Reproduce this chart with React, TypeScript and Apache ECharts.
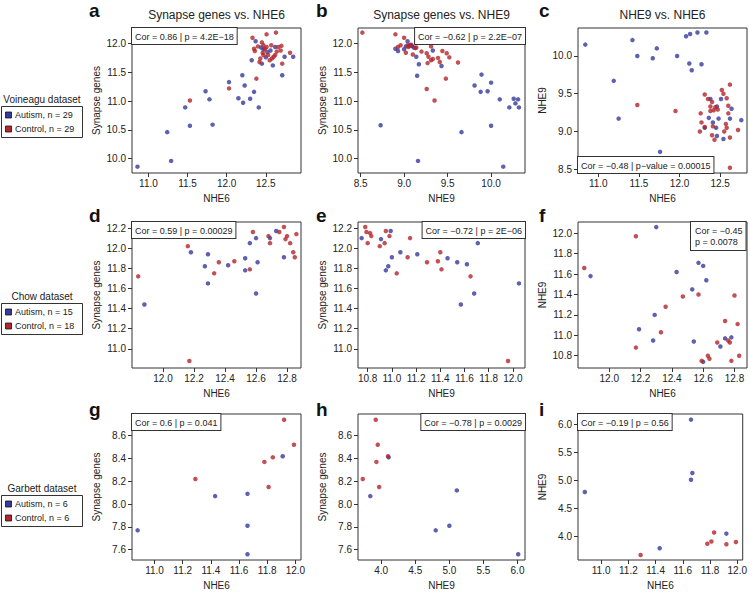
import React, { useEffect, useRef } from "react";
import * as echarts from "echarts";

const FONT = "'Liberation Sans', Arial, Helvetica, sans-serif";
const BLUE = "#363a9c";
const RED = "#b3262c";
const INK = "#222222";
const FRAME = "#333333";

// ---------- tick labels ----------
const TICKS_NHE6_V = [11.0, 11.5, 12.0, 12.5];
const TICKS_SYN_V = [10.0, 10.5, 11.0, 11.5, 12.0];
const TICKS_NHE9_V = [8.5, 9.0, 9.5, 10.0];
const TICKS_NHE6_C = [12.0, 12.2, 12.4, 12.6, 12.8];
const TICKS_SYN_C = [11.0, 11.2, 11.4, 11.6, 11.8, 12.0, 12.2];
const TICKS_NHE9_C = [10.8, 11.0, 11.2, 11.4, 11.6, 11.8, 12.0];
const TICKS_NHE6_G = [11.0, 11.2, 11.4, 11.6, 11.8, 12.0];
const TICKS_SYN_G = [7.6, 7.8, 8.0, 8.2, 8.4, 8.6];
const TICKS_NHE9_G = [4.0, 4.5, 5.0, 5.5, 6.0];

// ---------- texts ----------
const TITLES = ["Synapse genes vs. NHE6", "Synapse genes vs. NHE9", "NHE9 vs. NHE6"];
const LETTERS = ["a", "b", "c", "d", "e", "f", "g", "h", "i"];
const DATASETS = ["Voineagu dataset", "Chow dataset", "Garbett dataset"];
const AUTISM_N = [29, 15, 6];
const CONTROL_N = [29, 18, 6];
const COR_TEXTS = [
  "Cor = 0.86 | p = 4.2E\u221218",
  "Cor = \u22120.62 | p = 2.2E\u221207",
  "Cor = \u22120.48 | p\u2212value = 0.00015",
  "Cor = 0.59 | p = 0.00029",
  "Cor = \u22120.72 | p = 2E\u221206",
  "Cor = \u22120.45\np = 0.0078",
  "Cor = 0.6 | p = 0.041",
  "Cor = \u22120.78 | p = 0.0029",
  "Cor = \u22120.19 | p = 0.56",
];

// ---------- data: [x, y] ----------
// Voineagu
const A_AUTISM = [
  [10.86, 9.86], [11.24, 10.46], [11.29, 9.96], [11.47, 10.89], [11.53, 10.57], [11.73, 11.17],
  [11.78, 11.03], [11.82, 10.59], [12.03, 11.33], [12.15, 11.05], [12.2, 11.45], [12.21, 10.97],
  [12.23, 11.27], [12.3, 11.04], [12.35, 11.16], [12.41, 10.89], [12.71, 11.45], [12.37, 12.04],
  [12.32, 11.71], [12.45, 11.65], [12.47, 11.9], [12.56, 11.88], [12.59, 11.62], [12.62, 11.94],
  [12.74, 11.77], [12.85, 11.77], [12.5, 11.76], [12.44, 11.93], [12.52, 11.85],
];
const A_CONTROL = [
  [11.53, 11.01], [12.03, 11.22], [12.38, 11.39], [12.33, 12.1], [12.35, 11.91], [12.36, 11.87],
  [12.51, 12.16], [12.63, 12.19], [12.47, 11.97], [12.51, 11.94], [12.46, 11.84], [12.47, 11.8],
  [12.43, 11.74], [12.53, 11.8], [12.55, 11.71], [12.58, 11.74], [12.62, 11.8], [12.66, 11.94],
  [12.69, 11.88], [12.7, 11.96], [12.71, 11.65], [12.81, 11.84], [12.42, 11.68], [12.4, 11.95],
  [12.57, 11.97], [12.49, 11.9], [12.64, 11.86], [12.45, 12.02], [12.6, 11.77],
];
const B_AUTISM = [
  [8.9, 11.91], [8.93, 11.87], [9.04, 12.04], [9.09, 11.96], [9.14, 11.77], [9.17, 11.64],
  [9.15, 11.44], [9.33, 11.88], [9.43, 11.61], [8.73, 10.58], [9.16, 9.96], [9.66, 10.46],
  [9.81, 11.27], [9.89, 11.46], [9.88, 11.16], [9.96, 11.17], [10.0, 11.32], [10.0, 10.57],
  [10.1, 11.03], [10.14, 9.86], [10.21, 10.89], [10.26, 11.04], [10.28, 10.96], [10.31, 11.03],
  [10.32, 10.89], [9.02, 11.95], [9.07, 11.97], [9.0, 11.9], [9.11, 11.93],
];
const B_CONTROL = [
  [8.52, 12.19], [8.9, 12.16], [9.0, 12.1], [8.93, 11.94], [8.96, 11.97], [9.02, 11.84],
  [9.04, 11.97], [9.05, 11.94], [9.08, 11.98], [9.1, 11.81], [9.13, 11.92], [9.2, 11.86],
  [9.26, 11.83], [9.28, 11.77], [9.27, 11.66], [9.31, 11.71], [9.31, 11.95], [9.39, 11.75],
  [9.41, 11.68], [9.44, 11.87], [9.49, 11.83], [9.52, 11.76], [9.62, 11.67], [9.48, 11.39],
  [9.26, 11.21], [9.35, 11.01], [9.06, 11.96], [9.14, 11.93], [9.33, 11.73],
];
const C_AUTISM = [
  [10.84, 10.15], [11.19, 9.67], [11.25, 9.17], [11.42, 10.21], [11.48, 10.0], [11.67, 9.97],
  [11.72, 10.1], [11.76, 8.73], [11.97, 10.0], [12.08, 10.26], [12.13, 10.29], [12.12, 9.9],
  [12.15, 9.81], [12.22, 10.31], [12.27, 9.89], [12.33, 10.31], [12.38, 9.43], [12.36, 9.18],
  [12.31, 9.05], [12.45, 9.05], [12.46, 9.33], [12.48, 9.17], [12.46, 8.94], [12.51, 9.43],
  [12.54, 8.9], [12.64, 9.3], [12.62, 9.17], [12.76, 9.15], [12.41, 9.12],
];
const C_CONTROL = [
  [11.48, 9.35], [11.95, 9.27], [12.62, 8.52], [12.31, 9.49], [12.35, 9.43], [12.26, 9.24],
  [12.27, 9.12], [12.25, 9.0], [12.31, 9.06], [12.4, 9.39], [12.38, 9.33], [12.42, 9.28],
  [12.44, 9.32], [12.47, 9.29], [12.38, 9.27], [12.41, 9.07], [12.4, 8.95], [12.43, 8.89],
  [12.52, 9.55], [12.54, 9.5], [12.58, 9.44], [12.62, 9.62], [12.6, 9.34], [12.58, 9.05],
  [12.55, 9.0], [12.6, 9.24], [12.62, 8.92], [12.72, 9.02], [12.57, 9.1],
];
// Chow
const D_AUTISM = [
  [11.88, 11.44], [12.18, 11.96], [12.27, 11.82], [12.29, 11.94], [12.29, 11.65], [12.42, 11.83],
  [12.53, 11.9], [12.53, 11.78], [12.56, 12.05], [12.6, 12.1], [12.6, 11.55], [12.61, 11.86],
  [12.69, 12.1], [12.73, 12.17], [12.78, 11.91],
];
const D_CONTROL = [
  [11.84, 11.72], [12.16, 12.02], [12.17, 10.88], [12.33, 11.75], [12.36, 11.86], [12.46, 11.87],
  [12.56, 11.79], [12.58, 12.16], [12.68, 12.12], [12.69, 12.05], [12.75, 12.16], [12.78, 12.21],
  [12.79, 12.09], [12.8, 12.12], [12.82, 12.05], [12.84, 11.96], [12.85, 11.91], [12.86, 12.14],
];
const E_AUTISM = [
  [10.75, 12.1], [10.91, 12.09], [10.95, 11.78], [10.97, 11.82], [10.99, 12.17], [11.0, 11.91],
  [11.07, 11.96], [11.21, 11.94], [11.46, 11.9], [11.54, 11.86], [11.57, 11.44], [11.62, 11.84],
  [11.68, 11.55], [11.71, 12.05], [12.05, 11.65],
];
const E_CONTROL = [
  [10.78, 12.21], [10.79, 12.16], [10.8, 12.05], [10.82, 12.15], [10.83, 12.12], [10.9, 12.02],
  [10.94, 12.05], [10.95, 12.17], [10.98, 12.12], [11.04, 11.75], [11.13, 11.91], [11.15, 12.1],
  [11.29, 11.86], [11.38, 11.87], [11.4, 11.96], [11.41, 11.79], [11.65, 11.72], [11.96, 10.88],
];
const F_AUTISM = [
  [11.88, 11.58], [12.19, 11.06], [12.3, 12.06], [12.29, 11.2], [12.28, 10.95], [12.43, 11.62],
  [12.53, 11.45], [12.54, 10.94], [12.57, 11.71], [12.6, 11.68], [12.62, 11.54], [12.6, 10.74],
  [12.71, 10.89], [12.74, 10.97], [12.78, 10.98],
];
const F_CONTROL = [
  [11.84, 11.66], [12.17, 11.97], [12.17, 10.88], [12.33, 11.03], [12.36, 11.28], [12.47, 11.38],
  [12.57, 11.4], [12.59, 10.75], [12.63, 10.8], [12.64, 10.77], [12.69, 10.93], [12.74, 11.14],
  [12.76, 10.95], [12.77, 10.93], [12.78, 10.75], [12.8, 11.39], [12.82, 11.11], [12.83, 10.8],
];
// Garbett
const G_AUTISM = [[10.88, 7.77], [11.43, 8.07], [11.66, 8.09], [11.66, 7.81], [11.66, 7.56], [11.91, 8.42]];
const G_CONTROL = [[11.29, 8.22], [11.78, 8.37], [11.84, 8.41], [11.81, 8.15], [11.92, 8.74], [11.99, 8.52]];
const H_AUTISM = [[3.84, 8.07], [4.8, 7.77], [5.0, 7.81], [5.11, 8.12], [4.11, 8.41], [6.01, 7.56]];
const H_CONTROL = [[3.73, 8.22], [3.92, 8.74], [3.95, 8.52], [3.93, 8.37], [3.97, 8.15], [4.1, 8.42]];
const I_AUTISM = [[10.88, 4.79], [11.43, 3.79], [11.66, 6.08], [11.66, 5.01], [11.67, 5.13], [11.92, 4.05]];
const I_CONTROL = [[11.29, 3.67], [11.78, 3.87], [11.81, 3.91], [11.83, 4.07], [11.92, 3.86], [11.99, 3.9]];

// ---------- panel configuration ----------
type Panel = {
  xName: string; yName: string;
  xMin: number; xMax: number; yMin: number; yMax: number;
  xTicks: number[]; yTicks: number[];
  autism: number[][]; control: number[][];
  corPos: "tl" | "tr" | "bl";
  corWidth?: number;
};
const PANELS: Panel[] = [
  { xName: "NHE6", yName: "Synapse genes", xMin: 10.79, xMax: 12.95, yMin: 9.75, yMax: 12.27, xTicks: TICKS_NHE6_V, yTicks: TICKS_SYN_V, autism: A_AUTISM, control: A_CONTROL, corPos: "tl" },
  { xName: "NHE9", yName: "Synapse genes", xMin: 8.47, xMax: 10.39, yMin: 9.75, yMax: 12.27, xTicks: TICKS_NHE9_V, yTicks: TICKS_SYN_V, autism: B_AUTISM, control: B_CONTROL, corPos: "tr" },
  { xName: "NHE6", yName: "NHE9", xMin: 10.75, xMax: 12.83, yMin: 8.45, yMax: 10.37, xTicks: TICKS_NHE6_V, yTicks: TICKS_NHE9_V, autism: C_AUTISM, control: C_CONTROL, corPos: "bl" },
  { xName: "NHE6", yName: "Synapse genes", xMin: 11.8, xMax: 12.89, yMin: 10.81, yMax: 12.26, xTicks: TICKS_NHE6_C, yTicks: TICKS_SYN_C, autism: D_AUTISM, control: D_CONTROL, corPos: "tl" },
  { xName: "NHE9", yName: "Synapse genes", xMin: 10.72, xMax: 12.1, yMin: 10.81, yMax: 12.26, xTicks: TICKS_NHE9_C, yTicks: TICKS_SYN_C, autism: E_AUTISM, control: E_CONTROL, corPos: "tr" },
  { xName: "NHE6", yName: "NHE9", xMin: 11.8, xMax: 12.88, yMin: 10.68, yMax: 12.11, xTicks: TICKS_NHE6_C, yTicks: TICKS_NHE9_C, autism: F_AUTISM, control: F_CONTROL, corPos: "tr", corWidth: 56 },
  { xName: "NHE6", yName: "Synapse genes", xMin: 10.84, xMax: 12.04, yMin: 7.51, yMax: 8.79, xTicks: TICKS_NHE6_G, yTicks: TICKS_SYN_G, autism: G_AUTISM, control: G_CONTROL, corPos: "tl" },
  { xName: "NHE9", yName: "Synapse genes", xMin: 3.66, xMax: 6.11, yMin: 7.51, yMax: 8.79, xTicks: TICKS_NHE9_G, yTicks: TICKS_SYN_G, autism: H_AUTISM, control: H_CONTROL, corPos: "tr" },
  { xName: "NHE6", yName: "NHE9", xMin: 10.83, xMax: 12.04, yMin: 3.58, yMax: 6.18, xTicks: TICKS_NHE6_G, yTicks: TICKS_NHE9_G, autism: I_AUTISM, control: I_CONTROL, corPos: "tl" },
];

// layout (px)
const COL_LEFT = [132, 358, 578];
const COL_WIDTH = [169, 167, 169];
const ROW_TOP = [28, 222, 414];
const ROW_HEIGHT = [145, 146, 146];
const LETTER_X = [89, 316, 539];
const LETTER_Y = [12, 217, 411];
const LEGEND_TITLE_Y = [99, 296, 488];

function buildOption() {
  const grid: any[] = [];
  const xAxis: any[] = [];
  const yAxis: any[] = [];
  const series: any[] = [];
  const graphic: any[] = [];
  const labelStyle = { fontSize: 10, color: INK, fontFamily: FONT };

  PANELS.forEach((p, i) => {
    const row = Math.floor(i / 3);
    const col = i % 3;
    const left = COL_LEFT[col];
    const top = ROW_TOP[row];
    const w = COL_WIDTH[col];
    const h = ROW_HEIGHT[row];
    grid.push({ left, top, width: w, height: h, show: true, borderColor: FRAME, borderWidth: 1, backgroundColor: "transparent" });
    xAxis.push({
      type: "value", gridIndex: i, min: p.xMin, max: p.xMax,
      name: p.xName, nameLocation: "middle", nameGap: 20,
      nameTextStyle: { ...labelStyle },
      axisLine: { show: false },
      axisTick: { show: true, inside: false, length: 4, customValues: p.xTicks, lineStyle: { color: FRAME, width: 1 } },
      axisLabel: { show: true, customValues: p.xTicks, formatter: (v: number) => v.toFixed(1), margin: 5, ...labelStyle },
      splitLine: { show: false },
    });
    yAxis.push({
      type: "value", gridIndex: i, min: p.yMin, max: p.yMax,
      name: p.yName, nameLocation: "middle", nameGap: 31,
      nameTextStyle: { ...labelStyle },
      axisLine: { show: false },
      axisTick: { show: true, inside: false, length: 4, customValues: p.yTicks, lineStyle: { color: FRAME, width: 1 } },
      axisLabel: { show: true, customValues: p.yTicks, formatter: (v: number) => v.toFixed(1), margin: 6, ...labelStyle },
      splitLine: { show: false },
    });
    series.push({
      type: "scatter", xAxisIndex: i, yAxisIndex: i, data: p.autism,
      symbol: "circle", symbolSize: 4.5, itemStyle: { color: BLUE }, silent: true,
    });
    series.push({
      type: "scatter", xAxisIndex: i, yAxisIndex: i, data: p.control,
      symbol: "circle", symbolSize: 4.5, itemStyle: { color: RED }, silent: true,
    });

    // panel letter
    graphic.push({
      type: "text", left: LETTER_X[col], top: LETTER_Y[row] - 11,
      style: { text: LETTERS[i], font: `bold 19px ${FONT}`, fill: "#111" },
    });

    // correlation box
    const boxStyle = {
      text: COR_TEXTS[i], font: `9px ${FONT}`, fill: INK,
      backgroundColor: "#fff", borderColor: FRAME, borderWidth: 1,
      padding: [3, 3, 2, 3], lineHeight: 11,
    };
    if (p.corPos === "tl") {
      graphic.push({ type: "text", x: left, y: top, z: 10, style: { ...boxStyle, align: "left", verticalAlign: "top" } });
    } else if (p.corPos === "tr" && p.corWidth) {
      graphic.push({ type: "text", x: left + w - p.corWidth, y: top, z: 10, style: { ...boxStyle, align: "left", verticalAlign: "top", padding: [3, 3, 3, 4] } });
    } else if (p.corPos === "tr") {
      graphic.push({ type: "text", x: left + w, y: top, z: 10, style: { ...boxStyle, align: "right", verticalAlign: "top" } });
    } else {
      graphic.push({ type: "text", x: left, y: top + h, z: 10, style: { ...boxStyle, align: "left", verticalAlign: "bottom" } });
    }
  });

  // titles
  TITLES.forEach((t, c) => {
    graphic.push({
      type: "text", x: COL_LEFT[c] + COL_WIDTH[c] / 2, y: 15,
      style: { text: t, font: `12px ${FONT}`, fill: INK, align: "center", verticalAlign: "middle" },
    });
  });

  // dataset legends
  DATASETS.forEach((d, r) => {
    const ty = LEGEND_TITLE_Y[r];
    graphic.push({
      type: "text", x: 42, y: ty,
      style: { text: d, font: `10px ${FONT}`, fill: INK, align: "center", verticalAlign: "middle" },
    });
    const by = ty + 7;
    graphic.push({ type: "rect", shape: { x: 1.5, y: by + 0.5, width: 81, height: 31 }, style: { fill: "#fff", stroke: FRAME, lineWidth: 1 } });
    const rows = [
      { color: BLUE, text: `Autism, n = ${AUTISM_N[r]}` },
      { color: RED, text: `Control, n = ${CONTROL_N[r]}` },
    ];
    rows.forEach((rw, k) => {
      const cy = by + 9 + k * 14;
      graphic.push({ type: "rect", shape: { x: 5.5, y: cy - 3, width: 6, height: 6 }, style: { fill: rw.color, stroke: "#111", lineWidth: 0.8 } });
      graphic.push({ type: "text", x: 15, y: cy, style: { text: rw.text, font: `9px ${FONT}`, fill: INK, align: "left", verticalAlign: "middle" } });
    });
  });

  return {
    animation: false,
    backgroundColor: "#ffffff",
    textStyle: { fontFamily: FONT },
    grid, xAxis, yAxis, series, graphic,
  };
}

export default function App() {
  const ref = useRef<HTMLDivElement>(null);
  useEffect(() => {
    if (!ref.current) return;
    const chart = echarts.init(ref.current, undefined, { renderer: "svg" });
    chart.setOption(buildOption() as any);
    return () => chart.dispose();
  }, []);
  return (
    <div
      ref={ref}
      style={{ position: "fixed", left: 0, top: 0, width: 750, height: 594, background: "#fff" }}
    />
  );
}
